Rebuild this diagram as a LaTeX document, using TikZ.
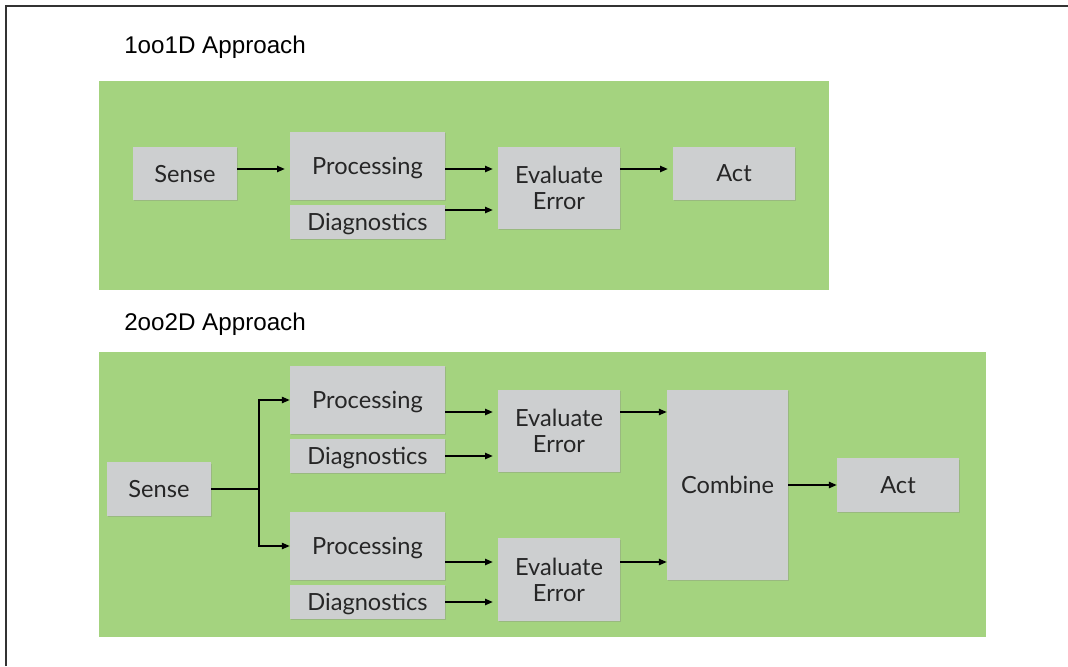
\documentclass[tikz,border=0pt]{standalone}
\usepackage{fontspec}
\setmainfont{Liberation Sans}
\newfontfamily\boxfont{Lato}
\usetikzlibrary{arrows.meta,shadows}
\definecolor{panelgreen}{HTML}{A4D37F}
\definecolor{boxgrey}{HTML}{CDCFD0}

\begin{document}
\begin{tikzpicture}[x=0.025cm, y=-0.025cm,
  title/.style={font=\fontsize{17.2}{20}\selectfont, inner sep=0pt, anchor=base west},
  box/.style={fill=boxgrey, inner sep=0pt, align=center, text=black!85, text depth=0pt,
    font=\boxfont\fontsize{16.8}{18.5}\selectfont,
    drop shadow={shadow xshift=0.4pt, shadow yshift=-0.8pt, opacity=0.3}},
  sensebox/.style={box, minimum width=2.6cm, minimum height=1.33cm},
  procbox/.style={box, minimum width=3.875cm, minimum height=1.7cm},
  diagbox/.style={box, minimum width=3.875cm, minimum height=0.85cm},
  evalbox/.style={box, minimum width=3.05cm, minimum height=2.05cm},
  actbox/.style={box, minimum width=3.05cm, minimum height=1.33cm},
  link/.style={-{Triangle[length=5.5pt,width=4.5pt]}, line width=0.9pt},
  gaplink/.style={link, shorten >=3.5pt}]

\useasboundingbox (0,0) rectangle (1068,666);
\draw[line width=1.4pt, black!80] (6,666) -- (6,6) -- (1068,6);

% 1oo1D
\node[title] (t1) at (124,53) {1oo1D Approach};
\fill[panelgreen] (99,81) rectangle (829,290);

\node[sensebox] (sense1) at (185,173.5) {Sense};
\node[procbox] (proc1) at (367.5,166) {Processing};
\node[diagbox] (diag1) at (367.5,222) {Diagnostics};
\node[evalbox] (eval1) at (559,188) {Evaluate\\Error};
\node[actbox] (act1) at (734,173.5) {Act};

\coordinate (row1) at (0,169);
\coordinate (row1d) at (0,210);
\draw[gaplink] (sense1.east |- row1) -- (proc1.west |- row1);
\draw[gaplink] (proc1.east |- row1) -- (eval1.west |- row1);
\draw[gaplink] (diag1.east |- row1d) -- (eval1.west |- row1d);
\draw[gaplink] (eval1.east |- row1) -- (act1.west |- row1);

% 2oo2D
\node[title] (t2) at (124,330) {2oo2D Approach};
\fill[panelgreen] (99,352) rectangle (986,637);

\node[sensebox] (sense2) at (159,489) {Sense};
\node[procbox] (proc2a) at (367.5,400) {Processing};
\node[diagbox] (diag2a) at (367.5,456) {Diagnostics};
\node[procbox] (proc2b) at (367.5,546) {Processing};
\node[diagbox] (diag2b) at (367.5,602) {Diagnostics};
\node[evalbox] (eval2a) at (559,431) {Evaluate\\Error};
\node[evalbox] (eval2b) at (559,579.5) {Evaluate\\Error};
\node[box, minimum width=3.025cm, minimum height=4.75cm] (comb) at (727.5,485) {Combine};
\node[actbox] (act2) at (898,485) {Act};

\coordinate (fork) at (259,489);
\coordinate (row2a) at (0,412);
\coordinate (row2b) at (0,562);
\draw[line width=0.9pt] (sense2.east) -- (fork);
\draw[link] (fork) |- (proc2a.west);
\draw[link] (fork) |- (proc2b.west);
\draw[gaplink] (proc2a.east |- row2a) -- (eval2a.west |- row2a);
\draw[gaplink] (diag2a.east) -- (diag2a.east -| eval2a.west);
\draw[gaplink] (proc2b.east |- row2b) -- (eval2b.west |- row2b);
\draw[gaplink] (diag2b.east) -- (diag2b.east -| eval2b.west);
\draw[link] (eval2a.east |- row2a) -- (comb.west |- row2a);
\draw[link] (eval2b.east |- row2b) -- (comb.west |- row2b);
\draw[link] (comb) -- (act2);
\end{tikzpicture}
\end{document}
